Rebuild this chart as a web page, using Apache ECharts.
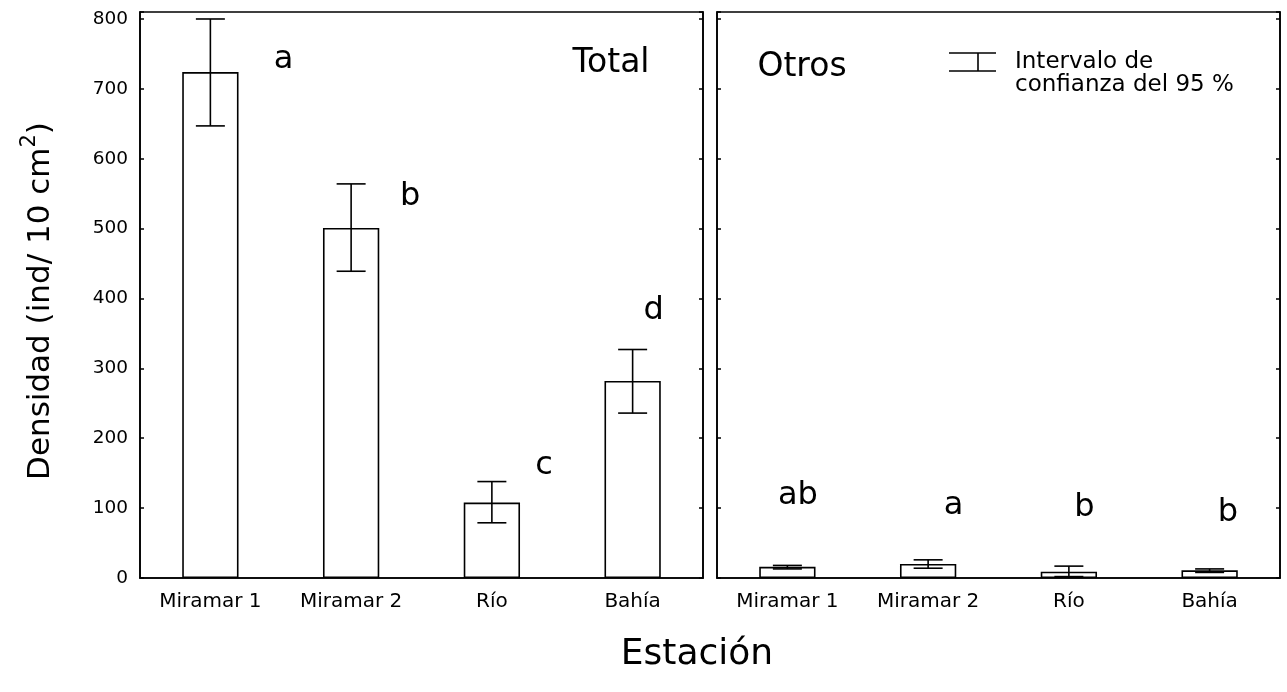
<!DOCTYPE html>
<html>
<head>
<meta charset="utf-8">
<script src="https://cdn.jsdelivr.net/npm/echarts@6/dist/echarts.min.js"></script>
<style>
  html, body { margin: 0; padding: 0; background: #fff; }
  #chart { width: 1287px; height: 692px; }
</style>
</head>
<body>
<div id="chart"></div>
<script>
// ---- data ----
const categories = ['Miramar 1', 'Miramar 2', 'Río', 'Bahía'];
const yTicks = [0, 100, 200, 300, 400, 500, 600, 700, 800];

const totalMean = [724, 501, 108, 282];
const totalLow  = [647, 439, 79, 236];
const totalHigh = [800, 564, 138, 327];

const otrosMean = [16, 20, 9, 11];
const otrosLow  = [13, 14, 2, 8];
const otrosHigh = [18, 26, 17, 13];

// significance letters
const totalLetters = ['a', 'b', 'c', 'd'];
const otrosLetters = ['ab', 'a', 'b', 'b'];
// annotation anchors (value units, fraction of band offset)
const totalLetterY  = [742, 545, 161, 382];
const totalLetterDx = [0.52, 0.42, 0.37, 0.15];
const otrosLetterY  = [118, 103, 100, 93];
const otrosLetterDx = [0.075, 0.18, 0.11, 0.13];

const FONT = 'DejaVu Sans';
const Y_MAX = 810;

const chart = echarts.init(document.getElementById('chart'), null, { renderer: 'canvas' });

function errRender(params, api) {
  const x = api.value(0);
  const lo = api.coord([x, api.value(1)]);
  const hi = api.coord([x, api.value(2)]);
  const half = api.size([1, 0])[0] * 0.103;
  const st = { stroke: '#000', lineWidth: 1.6 };
  return {
    type: 'group',
    children: [
      { type: 'line', shape: { x1: hi[0], y1: hi[1], x2: lo[0], y2: lo[1] }, style: st },
      { type: 'line', shape: { x1: hi[0] - half, y1: hi[1], x2: hi[0] + half, y2: hi[1] }, style: st },
      { type: 'line', shape: { x1: lo[0] - half, y1: lo[1], x2: lo[0] + half, y2: lo[1] }, style: st }
    ]
  };
}

function letterRender(params, api) {
  const i = api.value(0);
  const p = api.coord([i, api.value(1)]);
  const band = api.size([1, 0])[0];
  return {
    type: 'text',
    x: p[0] + api.value(2) * band,
    y: p[1],
    style: {
      text: api.value(3),
      fontFamily: FONT, fontSize: 32, fill: '#000',
      align: 'center', verticalAlign: 'middle'
    }
  };
}

function yAxisCfg(gridIndex, position, showLabel) {
  return {
    type: 'value', gridIndex, position, min: 0, max: Y_MAX, interval: 100,
    axisLine: { show: true, lineStyle: { color: '#000', width: 1.6 } },
    axisTick: { show: true, inside: true, length: 4, lineStyle: { color: '#000', width: 1.5 } },
    axisLabel: {
      show: showLabel, color: '#000', fontFamily: FONT, fontSize: 18.5, margin: 12,
      formatter: v => (yTicks.indexOf(v) >= 0 ? String(v) : '')
    },
    splitLine: { show: false }
  };
}

function xAxisCfg(gridIndex) {
  return {
    type: 'category', gridIndex, data: categories,
    axisLine: { show: true, lineStyle: { color: '#000', width: 1.6 } },
    axisTick: { show: false },
    axisLabel: { color: '#000', fontFamily: FONT, fontSize: 20, margin: 14 },
    splitLine: { show: false }
  };
}

function barSeries(xi, yi, vals) {
  return {
    type: 'bar', xAxisIndex: xi, yAxisIndex: yi, data: vals, barWidth: '40%',
    itemStyle: { color: '#fff', borderColor: '#000', borderWidth: 1.6 },
    z: 2, silent: true, animation: false
  };
}

function errSeries(xi, yi, lo, hi) {
  return {
    type: 'custom', xAxisIndex: xi, yAxisIndex: yi, renderItem: errRender,
    data: lo.map((l, i) => [i, l, hi[i]]), z: 5, silent: true, animation: false
  };
}

function letterSeries(xi, yi, letters, ys, dxs) {
  return {
    type: 'custom', xAxisIndex: xi, yAxisIndex: yi, renderItem: letterRender,
    data: letters.map((t, i) => [i, ys[i], dxs[i], t]),
    dimensions: ['x', 'y', 'dx', 'txt'],
    encode: { x: 0, y: 1 },
    z: 6, silent: true, animation: false, clip: false
  };
}

const option = {
  animation: false,
  backgroundColor: '#fff',
  grid: [
    { left: 140, right: 584, top: 12, bottom: 114, show: true, borderColor: '#000', borderWidth: 1.6, backgroundColor: 'transparent' },
    { left: 717, right: 7, top: 12, bottom: 114, show: true, borderColor: '#000', borderWidth: 1.6, backgroundColor: 'transparent' }
  ],
  xAxis: [xAxisCfg(0), xAxisCfg(1)],
  yAxis: [
    yAxisCfg(0, 'left', true),
    yAxisCfg(0, 'right', false),
    yAxisCfg(1, 'left', false),
    yAxisCfg(1, 'right', false)
  ],
  series: [
    barSeries(0, 0, totalMean),
    errSeries(0, 0, totalLow, totalHigh),
    letterSeries(0, 0, totalLetters, totalLetterY, totalLetterDx),
    barSeries(1, 2, otrosMean),
    errSeries(1, 2, otrosLow, otrosHigh),
    letterSeries(1, 2, otrosLetters, otrosLetterY, otrosLetterDx)
  ],
  graphic: [
    { type: 'text', x: 611, y: 63, style: { text: 'Total', fontFamily: FONT, fontSize: 33, fill: '#000', align: 'center', verticalAlign: 'middle' } },
    { type: 'text', x: 802, y: 67, style: { text: 'Otros', fontFamily: FONT, fontSize: 33, fill: '#000', align: 'center', verticalAlign: 'middle' } },
    { type: 'line', shape: { x1: 949, y1: 53, x2: 996, y2: 53 }, style: { stroke: '#000', lineWidth: 1.6 } },
    { type: 'line', shape: { x1: 949, y1: 71, x2: 996, y2: 71 }, style: { stroke: '#000', lineWidth: 1.6 } },
    { type: 'line', shape: { x1: 978, y1: 53, x2: 978, y2: 71 }, style: { stroke: '#000', lineWidth: 1.6 } },
    { type: 'text', x: 1015, y: 51, style: { text: 'Intervalo de\nconfianza del 95 %', fontFamily: FONT, fontSize: 23, lineHeight: 23, fill: '#000', align: 'left', verticalAlign: 'top' } },
    { type: 'text', x: 697, y: 655, style: { text: 'Estación', fontFamily: FONT, fontSize: 36, fill: '#000', align: 'center', verticalAlign: 'middle' } },
    { type: 'text', x: 41, y: 301, rotation: Math.PI / 2,
      style: { text: 'Densidad (ind/ 10 cm{sup|2})', fontFamily: FONT, fontSize: 31, fill: '#000', align: 'center', verticalAlign: 'middle',
        rich: { sup: { fontFamily: FONT, fontSize: 21, fill: '#000', padding: [0, 0, 22, 0] } } } }
  ]
};

chart.setOption(option);
</script>
</body>
</html>
